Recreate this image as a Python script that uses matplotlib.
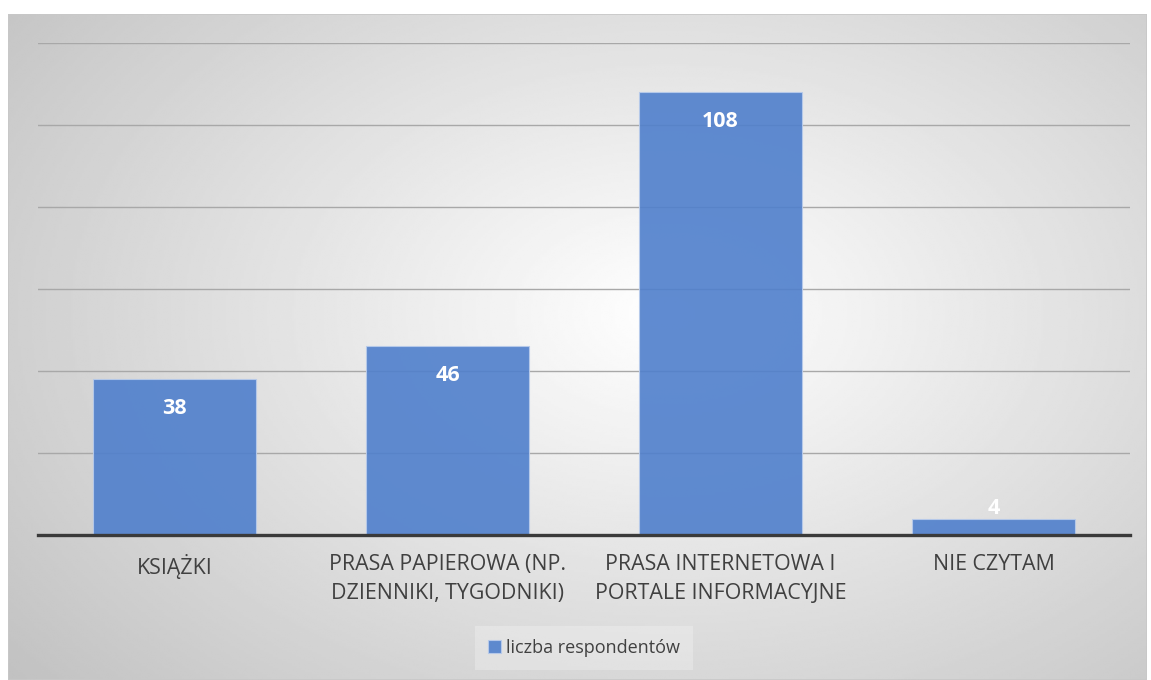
import numpy as np
import matplotlib.pyplot as plt
from matplotlib.patches import Rectangle

categories = ["KSIĄŻKI", "PRASA PAPIEROWA (NP.\nDZIENNIKI, TYGODNIKI)",
              "PRASA INTERNETOWA I\nPORTALE INFORMACYJNE", "NIE CZYTAM"]
values = [38, 46, 108, 4]
series_name = "liczba respondentów"

plt.rcParams['font.family'] = ['Open Sans', 'DejaVu Sans']

W, H = 1151, 680
fig = plt.figure(figsize=(W / 100, H / 100), dpi=100)
fig.patch.set_facecolor('white')

# radial gradient background of the chart area
bx0, by0, bx1, by1 = 8, 14, 1147, 680
bg = fig.add_axes([bx0 / W, 1 - by1 / H, (bx1 - bx0) / W, (by1 - by0) / H], zorder=-2)
yy, xx = np.mgrid[0:1:300j, 0:1:500j]
d = np.sqrt(((xx - 0.58) / 0.75) ** 2 + ((yy - 0.45) / 0.85) ** 2)
shade = 1.0 - 0.24 * np.clip(d, 0, 1.2)
bg.imshow(shade, cmap='gray', vmin=0, vmax=1, aspect='auto', extent=[0, 1, 0, 1],
          interpolation='bilinear')
bg.add_patch(Rectangle((0, 0), 1, 1, transform=bg.transAxes, fill=False,
                       edgecolor='#c8c8c8', linewidth=1.2))
bg.set_axis_off()

ax = fig.add_axes([38 / W, 1 - 535 / H, (1130 - 38) / W, (535 - 43) / H])
ax.patch.set_alpha(0)

x = np.arange(len(categories))
bars = ax.bar(x, values, width=0.6, color='#4f7fcc', alpha=0.9, edgecolor='#b8cbeb',
              linewidth=0.8, label=series_name, zorder=1)

ax.set_xlim(-0.5, len(categories) - 0.5)
ax.set_ylim(0, 120)
ax.set_yticks(np.arange(0, 121, 20))
ax.yaxis.grid(True, color='#a8a8a8', linewidth=1.0)
ax.set_axisbelow(True)
ax.tick_params(axis='y', left=False, labelleft=False)
ax.tick_params(axis='x', length=0, pad=14, labelsize=15.4, labelcolor='#404040')
ax.set_xticks(x)
ax.set_xticklabels(categories, linespacing=1.5)
for s in ['left', 'right', 'top']:
    ax.spines[s].set_visible(False)
ax.spines['bottom'].set_color('#3a3a3a')
ax.spines['bottom'].set_linewidth(2.4)
ax.spines['bottom'].set_zorder(4)

for b, v in zip(bars, values):
    off = -21 if v >= 10 else 7
    ax.annotate(str(v), (b.get_x() + b.get_width() / 2, v), xytext=(0, off),
                textcoords='offset points', ha='center', va='center',
                color='white', fontsize=15.5, fontweight='bold', zorder=5)

leg = ax.legend(loc='center', bbox_to_anchor=(0.5, (535 - 648) / (535 - 43)),
                frameon=True, fontsize=13, handlelength=0.7, handleheight=0.7,
                handletextpad=0.3, borderpad=0.7, fancybox=False)
leg.get_frame().set_facecolor('white')
leg.get_frame().set_alpha(0.25)
leg.get_frame().set_edgecolor('none')
for t in leg.get_texts():
    t.set_color('#404040')

fig.savefig('out.png', dpi=100)
